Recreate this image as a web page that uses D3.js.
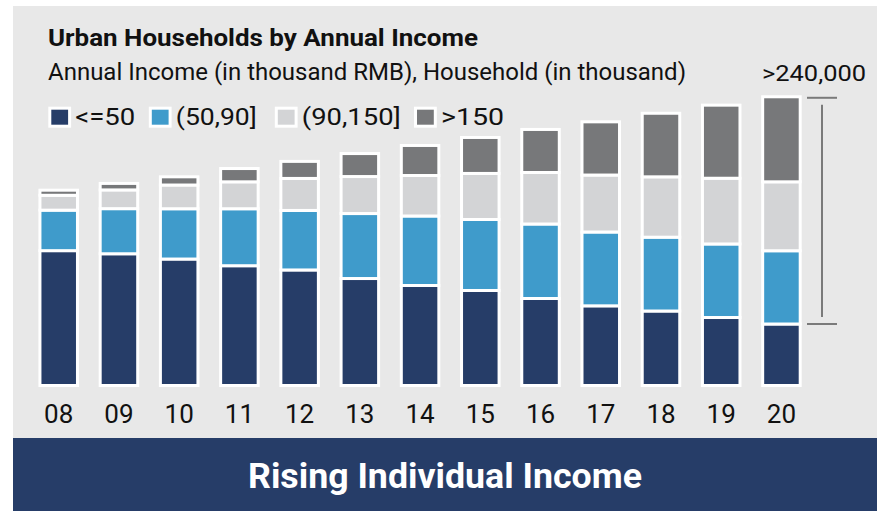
<!DOCTYPE html>
<html><head><meta charset="utf-8">
<script src="https://cdn.jsdelivr.net/npm/d3@7"></script>
<style>body{margin:0;background:#fff} svg{display:block;font-family:Roboto,"Noto Sans",sans-serif}</style>
</head><body>
<svg id="chart" width="881" height="511"></svg>
<script>
// ---- data (thousand households) ----
const years = ["08","09","10","11","12","13","14","15","16","17","18","19","20"];
const seriesKeys = ["<=50","(50,90]","(90,150]",">150"];
const le50    = [143200,139900,134300,127200,122700,113600,106200,100900,92400,84600,79100,72200,65300];
const b50_90  = [ 43000, 47900, 53400, 60500, 63200, 69000, 73800, 75400,79100,78400,78400,78100,77800];
const b90_150 = [ 15800, 19900, 25200, 28600, 34000, 39300, 43000, 48900,54700,60500,64100,69800,73200];
const gt150   = [  5400,  6900,  8700, 14100, 18100, 24400, 31900, 38200,45700,56500,67500,77600,90300];
const seriesColors = ["#263d68","#3f9bcb","#d3d4d6","#77787a"];
const title = "Urban Households by Annual Income";
const subtitle = "Annual Income (in thousand RMB), Household (in thousand)";
const bracketLabel = ">240,000";
const banner = "Rising Individual Income";

const rows = years.map((yr,i)=>({year:yr,"<=50":le50[i],"(50,90]":b50_90[i],"(90,150]":b90_150[i],">150":gt150[i]}));

const svg = d3.select("#chart");
// stretch text horizontally to the reference's width
function fit(sel, w){ sel.attr("textLength",w).attr("lengthAdjust","spacingAndGlyphs"); return sel; }

svg.append("rect").attr("x",13).attr("y",6).attr("width",864).attr("height",432).attr("fill","#e8e8e8");
svg.append("rect").attr("x",13).attr("y",438).attr("width",864).attr("height",73).attr("fill","#263d68");

const x = d3.scaleBand().domain(years).range([39.95,800.2]).paddingInner(0.377).paddingOuter(0);
const y = d3.scaleLinear().domain([0,300000]).range([385.5,103]);
const color = d3.scaleOrdinal().domain(seriesKeys).range(seriesColors);

const stacked = d3.stack().keys(seriesKeys)(rows);

svg.append("g").selectAll("g").data(stacked).join("g")
  .attr("fill",d=>color(d.key))
  .selectAll("rect").data(d=>d).join("rect")
  .attr("x",d=>x(d.data.year))
  .attr("width",x.bandwidth())
  .attr("y",d=>y(d[1]))
  .attr("height",d=>y(d[0])-y(d[1]))
  .attr("stroke","#fff").attr("stroke-width",3);

// x axis
const ax = svg.append("g").attr("transform","translate(0,400)")
  .call(d3.axisBottom(x).tickSize(0).tickPadding(0));
ax.select(".domain").remove();
ax.selectAll("text").attr("dy",null).attr("y",23)
  .style("font-family","Roboto, sans-serif").style("font-size","26px").attr("fill","#111");

// title + subtitle
fit(svg.append("text").attr("x",48).attr("y",46).text(title)
  .style("font-weight","bold").style("font-size","23px").attr("fill","#111"), 430);
fit(svg.append("text").attr("x",48).attr("y",80).text(subtitle)
  .style("font-size","24px").attr("fill","#111"), 638);

// legend (layout)
const legendX = [49.8,150.3,276.3,415.5];
const legendTextW = [60,81,99,63];
seriesKeys.forEach((k,i)=>{
  const lx = legendX[i];
  svg.append("rect").attr("x",lx).attr("y",108.2).attr("width",19.8).attr("height",18)
    .attr("fill",seriesColors[i]).attr("stroke","#fff").attr("stroke-width",3);
  fit(svg.append("text").attr("x",lx+25.5).attr("y",125).text(k)
    .style("font-size","24px").attr("fill","#111"), legendTextW[i]);
});

// bracket for last year
const last = years.length-1;
const topY = y(le50[last]+b50_90[last]+b90_150[last]+gt150[last]);
const botY = y(le50[last]);
const br = svg.append("g").attr("stroke","#7a7a7a").attr("stroke-width",2);
br.append("line").attr("x1",807).attr("x2",837).attr("y1",topY+1).attr("y2",topY+1);
br.append("line").attr("x1",807).attr("x2",837).attr("y1",botY).attr("y2",botY);
br.append("line").attr("x1",822).attr("x2",822).attr("y1",topY+8).attr("y2",botY-7);
fit(svg.append("text").attr("x",866).attr("y",81).attr("text-anchor","end").text(bracketLabel)
  .style("font-size","22px").attr("fill","#111"), 104);

// banner text
fit(svg.append("text").attr("x",445).attr("y",488).attr("text-anchor","middle").text(banner)
  .style("font-size","35px").style("font-weight","bold").attr("fill","#fff"), 394);
</script>
</body></html>
